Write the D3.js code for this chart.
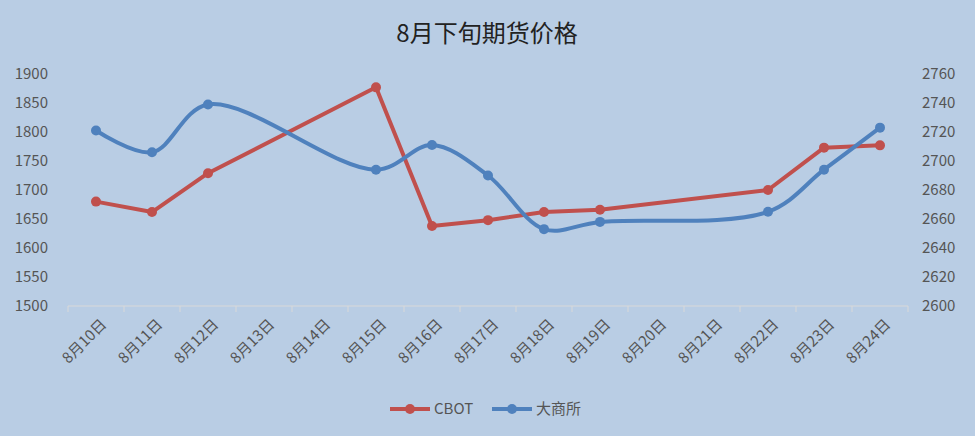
<!DOCTYPE html><html><head><meta charset="utf-8"><script src="https://cdn.jsdelivr.net/npm/d3@7"></script>
<style>body{margin:0;background:#b9cde4}</style></head><body><svg id="c" width="975" height="436"></svg><script>
const categories=["8月10日","8月11日","8月12日","8月13日","8月14日","8月15日","8月16日","8月17日","8月18日","8月19日","8月20日","8月21日","8月22日","8月23日","8月24日"];
const cbotDates=["8月10日","8月11日","8月12日","8月15日","8月16日","8月17日","8月18日","8月19日","8月22日","8月23日","8月24日"];
const cbot=[1680,1662,1729,1877,1638,1648,1662,1666,1700,1773,1777];
const dce=[2721,2706,2739,2694,2711,2690,2653,2658,2665,2694,2723];
const leftTicks=[1500,1550,1600,1650,1700,1750,1800,1850,1900];
const rightTicks=[2600,2620,2640,2660,2680,2700,2720,2740,2760];
const svg=d3.select("#c");const F="'Noto Sans CJK SC','Noto Sans',sans-serif";
svg.append("rect").attr("width",975).attr("height",436).attr("fill","#b9cde4");
const x=d3.scaleBand().domain(categories).range([68,908]);
const cx=d=>x(d)+x.bandwidth()/2;
const yl=d3.scaleLinear().domain([1500,1900]).range([306,74]);
const yr=d3.scaleLinear().domain([2600,2760]).range([306,74]);
svg.append("text").attr("x",487).attr("y",42).attr("text-anchor","middle").attr("font-family",F).attr("font-size",24).attr("fill","#222").text("8月下旬期货价格");
const gl=svg.append("g").attr("transform","translate(58,0)").call(d3.axisLeft(yl).tickValues(leftTicks).tickFormat(d3.format("d")).tickSize(0).tickPadding(10));
const gr=svg.append("g").attr("transform","translate(916,0)").call(d3.axisRight(yr).tickValues(rightTicks).tickFormat(d3.format("d")).tickSize(0).tickPadding(6));
[gl,gr].forEach(g=>{g.select(".domain").remove();g.selectAll("text").attr("font-family",F).attr("font-size",15).attr("fill","#555");});
const gx=svg.append("g").attr("transform","translate(0,306)");
gx.append("line").attr("x1",68).attr("x2",908).attr("stroke","#d9d9d9").attr("stroke-width",1);
categories.concat([null]).forEach((c,i)=>{const xx=68+i*x.bandwidth();gx.append("line").attr("x1",xx).attr("x2",xx).attr("y2",6).attr("stroke","#d9d9d9");});
categories.forEach(c=>{gx.append("text").attr("transform",`translate(${cx(c)+4},12) rotate(-45)`).attr("text-anchor","end").attr("dy","0.7em").attr("font-family",F).attr("font-size",15).attr("fill","#555").text(c);});
const red="#c0504d",blue="#4f81bd";
const pr=cbotDates.map((d,i)=>[cx(d),yl(cbot[i])]);
const pb=cbotDates.map((d,i)=>[cx(d),yr(dce[i])]);
svg.append("path").attr("d",d3.line()(pr)).attr("fill","none").attr("stroke",red).attr("stroke-width",4).attr("stroke-linejoin","round");
svg.append("path").attr("d",d3.line().curve(d3.curveCatmullRom.alpha(0.5))(pb)).attr("fill","none").attr("stroke",blue).attr("stroke-width",4);
svg.selectAll(".pr").data(pr).enter().append("circle").attr("cx",d=>d[0]).attr("cy",d=>d[1]).attr("r",5).attr("fill",red);
svg.selectAll(".pb").data(pb).enter().append("circle").attr("cx",d=>d[0]).attr("cy",d=>d[1]).attr("r",5).attr("fill",blue);
const lg=svg.append("g");
[[390,red,"CBOT"],[492,blue,"大商所"]].forEach(([lx,c,t])=>{lg.append("line").attr("x1",lx).attr("x2",lx+40).attr("y1",409).attr("y2",409).attr("stroke",c).attr("stroke-width",4);lg.append("circle").attr("cx",lx+20).attr("cy",409).attr("r",5).attr("fill",c);lg.append("text").attr("x",lx+44).attr("y",414).attr("font-family",F).attr("font-size",15).attr("fill","#555").text(t);});
</script></body></html>
